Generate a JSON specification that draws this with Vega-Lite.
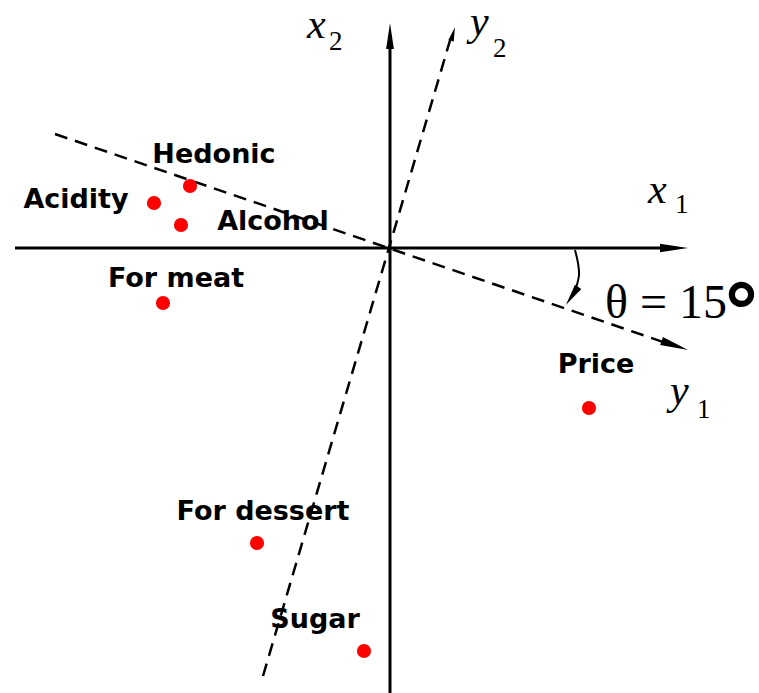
{
  "$schema": "https://vega.github.io/schema/vega-lite/v6.json",
  "width": 759,
  "height": 693,
  "autosize": {"type": "none"},
  "padding": 0,
  "background": "white",
  "config": {"view": {"stroke": null}},
  "encoding": {
    "x": {"field": "x", "type": "quantitative", "scale": {"domain": [-3.9, 3.69], "nice": false, "zero": false}, "axis": null},
    "y": {"field": "y", "type": "quantitative", "scale": {"domain": [-4.45, 2.48], "nice": false, "zero": false}, "axis": null}
  },
  "layer": [
    {
      "data": {"values": [{"x": -3.75, "y": 0, "o": 0}, {"x": 2.8, "y": 0, "o": 1}]},
      "mark": {"type": "line", "color": "black", "strokeWidth": 3},
      "encoding": {"order": {"field": "o"}}
    },
    {
      "data": {"values": [{"x": 0, "y": -4.45, "o": 0}, {"x": 0, "y": 2.08, "o": 1}]},
      "mark": {"type": "line", "color": "black", "strokeWidth": 3},
      "encoding": {"order": {"field": "o"}}
    },
    {
      "data": {"values": [{"x": -3.35, "y": 1.14, "o": 0}, {"x": 2.82, "y": -0.97, "o": 1}]},
      "mark": {"type": "line", "color": "black", "strokeWidth": 2.5, "strokeDash": [13, 8]},
      "encoding": {"order": {"field": "o"}}
    },
    {
      "data": {"values": [{"x": -1.27, "y": -4.28, "o": 0}, {"x": 0.61, "y": 2.11, "o": 1}]},
      "mark": {"type": "line", "color": "black", "strokeWidth": 2.5, "strokeDash": [13, 8]},
      "encoding": {"order": {"field": "o"}}
    },
    {
      "data": {"values": [{"x": 1.85, "y": -0.02, "o": 0}, {"x": 1.88, "y": -0.15, "o": 1}, {"x": 1.89, "y": -0.27, "o": 2}, {"x": 1.86, "y": -0.4, "o": 3}]},
      "mark": {"type": "line", "color": "black", "strokeWidth": 2, "interpolate": "cardinal"},
      "encoding": {"order": {"field": "o"}}
    },
    {
      "data": {"values": [{"x": 2.84, "y": 0}]},
      "mark": {"type": "point", "shape": "M-1,-0.3L1,0L-1,0.3Z", "filled": true, "color": "black", "opacity": 1, "size": 784, "angle": 0}
    },
    {
      "data": {"values": [{"x": 0, "y": 2.12}]},
      "mark": {"type": "point", "shape": "M-1,-0.3L1,0L-1,0.3Z", "filled": true, "color": "black", "opacity": 1, "size": 676, "angle": 270}
    },
    {
      "data": {"values": [{"x": 2.848, "y": -0.975}]},
      "mark": {"type": "point", "shape": "M-1,-0.3L1,0L-1,0.3Z", "filled": true, "color": "black", "opacity": 1, "size": 784, "angle": 18.8}
    },
    {
      "data": {"values": [{"x": 0.63, "y": 2.14}]},
      "mark": {"type": "point", "shape": "M-1,-0.4L1,0L-1,0.4Z", "filled": true, "color": "black", "opacity": 1, "size": 196, "angle": 286.4}
    },
    {
      "data": {"values": [{"x": 1.82, "y": -0.48}]},
      "mark": {"type": "point", "shape": "M-1,-0.35L1,0L-1,0.35Z", "filled": true, "color": "black", "opacity": 1, "size": 484, "angle": 124}
    },
    {
      "data": {"values": [
        {"label": "Hedonic", "x": -2.0, "y": 0.62},
        {"label": "Acidity", "x": -2.36, "y": 0.45},
        {"label": "Alcohol", "x": -2.09, "y": 0.23},
        {"label": "For meat", "x": -2.27, "y": -0.55},
        {"label": "Price", "x": 1.99, "y": -1.6},
        {"label": "For dessert", "x": -1.33, "y": -2.95},
        {"label": "Sugar", "x": -0.26, "y": -4.03}
      ]},
      "mark": {"type": "circle", "color": "#ff0000", "opacity": 1, "size": 200}
    },
    {
      "data": {"values": [
        {"label": "Hedonic", "x": -1.76, "y": 0.85},
        {"label": "Acidity", "x": -3.14, "y": 0.4},
        {"label": "Alcohol", "x": -1.17, "y": 0.18},
        {"label": "For meat", "x": -2.14, "y": -0.39},
        {"label": "Price", "x": 2.06, "y": -1.25},
        {"label": "For dessert", "x": -1.27, "y": -2.72},
        {"label": "Sugar", "x": -0.75, "y": -3.8}
      ]},
      "mark": {"type": "text", "font": "DejaVu Sans", "fontWeight": "bold", "fontSize": 27, "align": "center", "baseline": "alphabetic", "color": "black"},
      "encoding": {"text": {"field": "label"}}
    },
    {
      "data": {"values": [
        {"t": "x", "x": -0.83, "y": 2.1},
        {"t": "y", "x": 0.8, "y": 2.13},
        {"t": "x", "x": 2.58, "y": 0.45},
        {"t": "y", "x": 2.8, "y": -1.56}
      ]},
      "mark": {"type": "text", "font": "Liberation Serif", "fontStyle": "italic", "fontSize": 42, "align": "left", "baseline": "alphabetic", "color": "black"},
      "encoding": {"text": {"field": "t"}}
    },
    {
      "data": {"values": [
        {"t": "2", "x": -0.61, "y": 1.98},
        {"t": "2", "x": 1.03, "y": 1.91},
        {"t": "1", "x": 2.85, "y": 0.35},
        {"t": "1", "x": 3.07, "y": -1.7}
      ]},
      "mark": {"type": "text", "font": "Liberation Serif", "fontSize": 27, "align": "left", "baseline": "alphabetic", "color": "black"},
      "encoding": {"text": {"field": "t"}}
    },
    {
      "data": {"values": [{"t": "θ = 15", "x": 2.15, "y": -0.7}]},
      "mark": {"type": "text", "font": "Liberation Serif", "fontSize": 48, "align": "left", "baseline": "alphabetic", "color": "black"},
      "encoding": {"text": {"field": "t"}}
    },
    {
      "data": {"values": [{"t": "°", "x": 3.32, "y": -0.92}]},
      "mark": {"type": "text", "font": "DejaVu Sans", "fontWeight": "bold", "fontSize": 78, "align": "left", "baseline": "alphabetic", "color": "black"},
      "encoding": {"text": {"field": "t"}}
    }
  ]
}
